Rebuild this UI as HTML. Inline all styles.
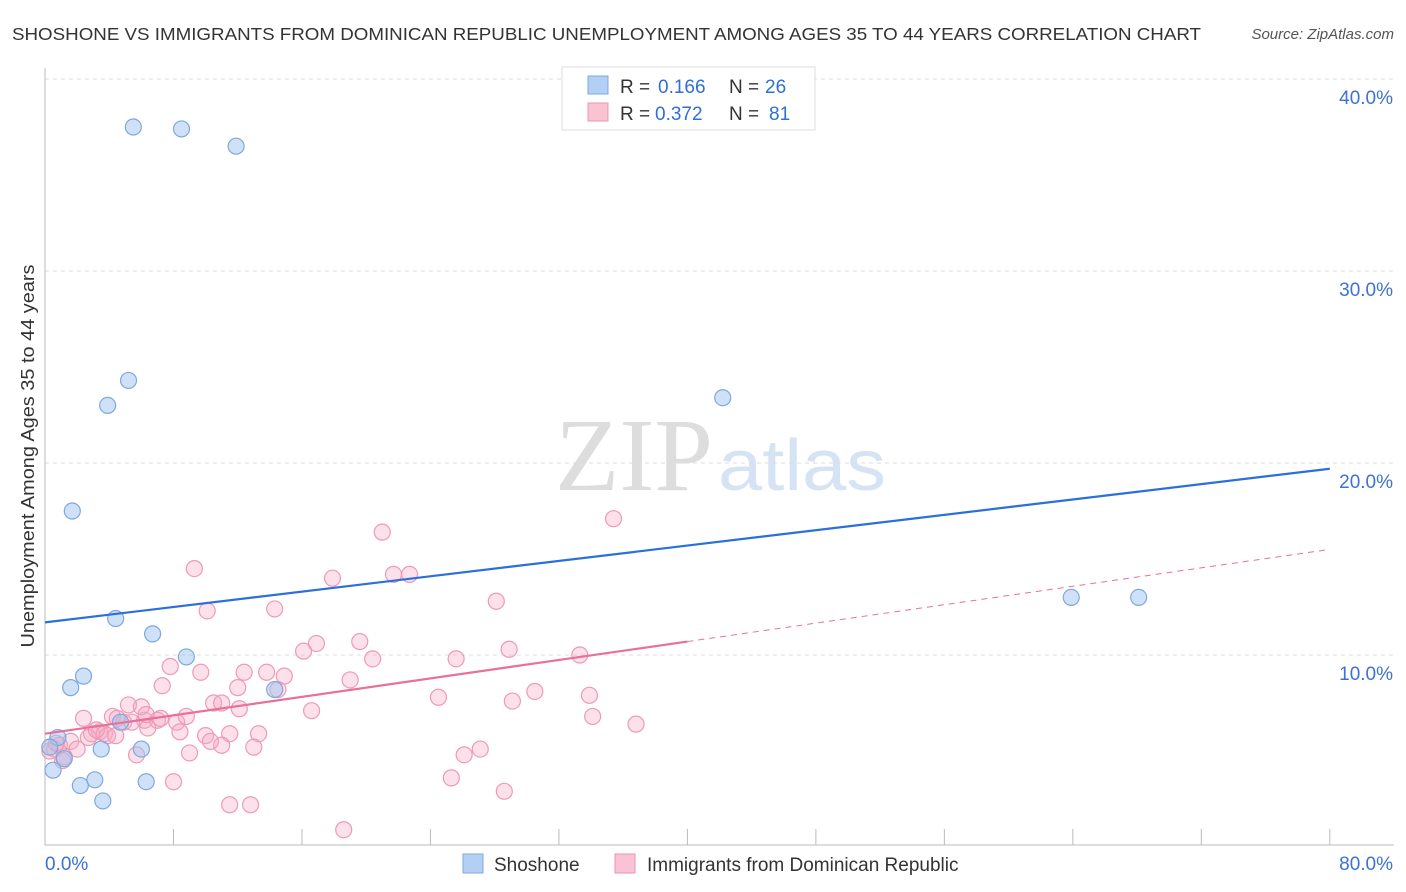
<!DOCTYPE html>
<html><head><meta charset="utf-8">
<style>
body{margin:0;background:#fff;font-family:"Liberation Sans",sans-serif;}
#wrap{position:relative;width:1406px;height:892px;overflow:hidden;}
</style></head>
<body>
<div id="wrap">
<svg id="chart" width="1406" height="892">
<text x="12" y="40" font-size="17.5" fill="#333" textLength="1189" lengthAdjust="spacingAndGlyphs">SHOSHONE VS IMMIGRANTS FROM DOMINICAN REPUBLIC UNEMPLOYMENT AMONG AGES 35 TO 44 YEARS CORRELATION CHART</text>
<text x="1394" y="39" font-size="15" fill="#555" font-style="italic" text-anchor="end">Source: ZipAtlas.com</text>
<text x="555" y="490" font-size="104" fill="#ddd" font-family="Liberation Serif,serif" textLength="158" lengthAdjust="spacingAndGlyphs">ZIP</text>
<text x="718" y="490" font-size="72" fill="#d5e3f5" textLength="168" lengthAdjust="spacingAndGlyphs">atlas</text>
<text transform="translate(34,456) rotate(-90)" font-size="18" fill="#333" text-anchor="middle" textLength="383" lengthAdjust="spacingAndGlyphs">Unemployment Among Ages 35 to 44 years</text>
<g id="grid"></g><g id="marks"></g>
<g>
<rect x="562" y="67" width="253" height="63" fill="#fff" stroke="#ddd"/>
<rect x="588" y="76" width="20" height="18" fill="#b3cff3" stroke="#7fa8dd"/>
<rect x="588" y="103" width="20" height="18" fill="#f9c3d3" stroke="#ec95b2"/>
<text y="93" font-size="19" fill="#333"><tspan x="620">R =</tspan><tspan x="658" fill="#2f6fd6">0.166</tspan><tspan x="729">N =</tspan><tspan x="765" fill="#2f6fd6">26</tspan></text>
<text y="120" font-size="19" fill="#333"><tspan x="620">R =</tspan><tspan x="655" fill="#2f6fd6">0.372</tspan><tspan x="729">N =</tspan><tspan x="769" fill="#2f6fd6">81</tspan></text>
</g>
<g>
<rect x="463" y="854" width="20" height="19" fill="#b3cff3" stroke="#7fa8dd"/>
<text x="494" y="871" font-size="19" fill="#333">Shoshone</text>
<rect x="615" y="854" width="20" height="19" fill="#f9c3d3" stroke="#ec95b2"/>
<text x="647" y="871" font-size="19" fill="#333">Immigrants from Dominican Republic</text>
</g>
</svg>
</div>
<script>
const blueX=[5.5,8.5,11.9,5.2,3.9,42.2,1.7,4.4,6.7,2.4,1.6,8.8,14.3,63.9,68.1,0.8,0.3,0.5,1.2,3.5,6.0,4.7,3.1,2.2,3.6,6.3];
const blueY=[37.5,37.4,36.5,24.3,23.0,23.4,17.5,11.9,11.1,8.9,8.3,9.9,8.2,13.0,13.0,5.7,5.2,4.0,4.6,5.1,5.1,6.5,3.5,3.2,2.4,3.4];
const pinkX=[21.0,35.4,9.3,17.9,21.7,22.7,28.1,10.1,14.3,16.9,19.6,16.1,20.4,28.9,33.3,25.6,7.8,9.7,12.4,13.8,14.9,7.3,12.0,19.0,14.5,24.5,30.5,33.9,29.1,10.5,11.0,5.2,6.0,12.1,16.6,34.1,36.8,2.4,4.2,4.5,6.2,7.0,8.2,8.8,4.9,5.4,6.4,8.4,10.0,11.5,13.3,3.4,2.9,3.7,2.7,3.9,1.6,0.9,0.6,0.3,2.0,1.2,5.7,9.0,11.0,13.0,10.3,1.1,26.1,27.1,8.0,25.3,28.6,11.5,12.8,18.6,0.7,3.2,4.4,7.2,6.3];
const pinkY=[16.4,17.1,14.5,14.0,14.2,14.2,12.8,12.3,12.4,10.6,10.7,10.2,9.8,10.3,10.0,9.8,9.4,9.1,9.1,9.1,8.9,8.4,8.3,8.7,8.2,7.8,8.1,7.9,7.6,7.5,7.5,7.4,7.3,7.2,7.1,6.8,6.4,6.7,6.8,6.7,6.6,6.6,6.5,6.8,6.5,6.5,6.2,6.0,5.8,5.9,5.9,6.0,5.9,5.9,5.7,5.8,5.5,5.3,5.1,5.0,5.1,4.7,4.8,4.9,5.3,5.2,5.5,4.5,4.8,5.1,3.4,3.6,2.9,2.2,2.2,0.9,5.4,6.1,5.8,6.7,6.9];
const yTicks=[10,20,30,40];
const yTickLabels=["10.0%","20.0%","30.0%","40.0%"];
const xTickVals=[0,8,16,24,32,40,48,56,64,72,80];
const blueTrend=[11.7,19.7];
const pinkTrend=[5.9,10.7,15.5];
const pinkSolidEnd=40;

const X=v=>45+v*16.06, Y=v=>847-v*19.2;
const NS="http://www.w3.org/2000/svg";
function mk(t,a,p){const e=document.createElementNS(NS,t);for(const k in a)e.setAttribute(k,a[k]);p.appendChild(e);return e;}
const g=document.getElementById('grid'), m=document.getElementById('marks');
let e;
yTicks.forEach((v,i)=>{
 e=mk('line',{x1:45,x2:1394,y1:Y(v),y2:Y(v),stroke:'#ddd','stroke-dasharray':'4,4'},g);
 
 
 e=mk('text',{x:1393,y:Y(v)+25,'font-size':19,fill:'#3a72d6','text-anchor':'end'},g);
 e.textContent=yTickLabels[i];
 
 
});
e=mk('line',{x1:45,x2:45,y1:68,y2:845,stroke:'#bbb'},g);


e=mk('line',{x1:45,x2:1394,y1:845,y2:845,stroke:'#bbb'},g);


xTickVals.forEach(v=>{
 e=mk('line',{x1:X(v),x2:X(v),y1:829,y2:845,stroke:'#bbb'},g);
 
 
});
e=mk('text',{x:45,y:870,'font-size':19,fill:'#3a72d6'},g);e.textContent="0.0%";


e=mk('text',{x:1393,y:870,'font-size':19,fill:'#3a72d6','text-anchor':'end'},g);e.textContent="80.0%";



pinkX.forEach((x,i)=>{
 e=mk('circle',{cx:X(x),cy:Y(pinkY[i]),r:8,fill:'rgba(246,170,195,0.35)',stroke:'#ee9ab5','stroke-width':1.2},m);
 
 
});
blueX.forEach((x,i)=>{
 e=mk('circle',{cx:X(x),cy:Y(blueY[i]),r:8,fill:'rgba(160,195,240,0.5)',stroke:'#7fa8dd','stroke-width':1.2},m);
 
 
});
e=mk('line',{x1:X(0),y1:Y(blueTrend[0]),x2:X(80),y2:Y(blueTrend[1]),stroke:'#2a6fdb','stroke-width':2.2},m);


e=mk('line',{x1:X(0),y1:Y(pinkTrend[0]),x2:X(pinkSolidEnd),y2:Y(pinkTrend[1]),stroke:'#e8709a','stroke-width':2.2},m);


e=mk('line',{x1:X(pinkSolidEnd),y1:Y(pinkTrend[1]),x2:X(80),y2:Y(pinkTrend[2]),stroke:'#e8709a','stroke-width':1,'stroke-dasharray':'6,5'},m);


</script>
</body></html>
